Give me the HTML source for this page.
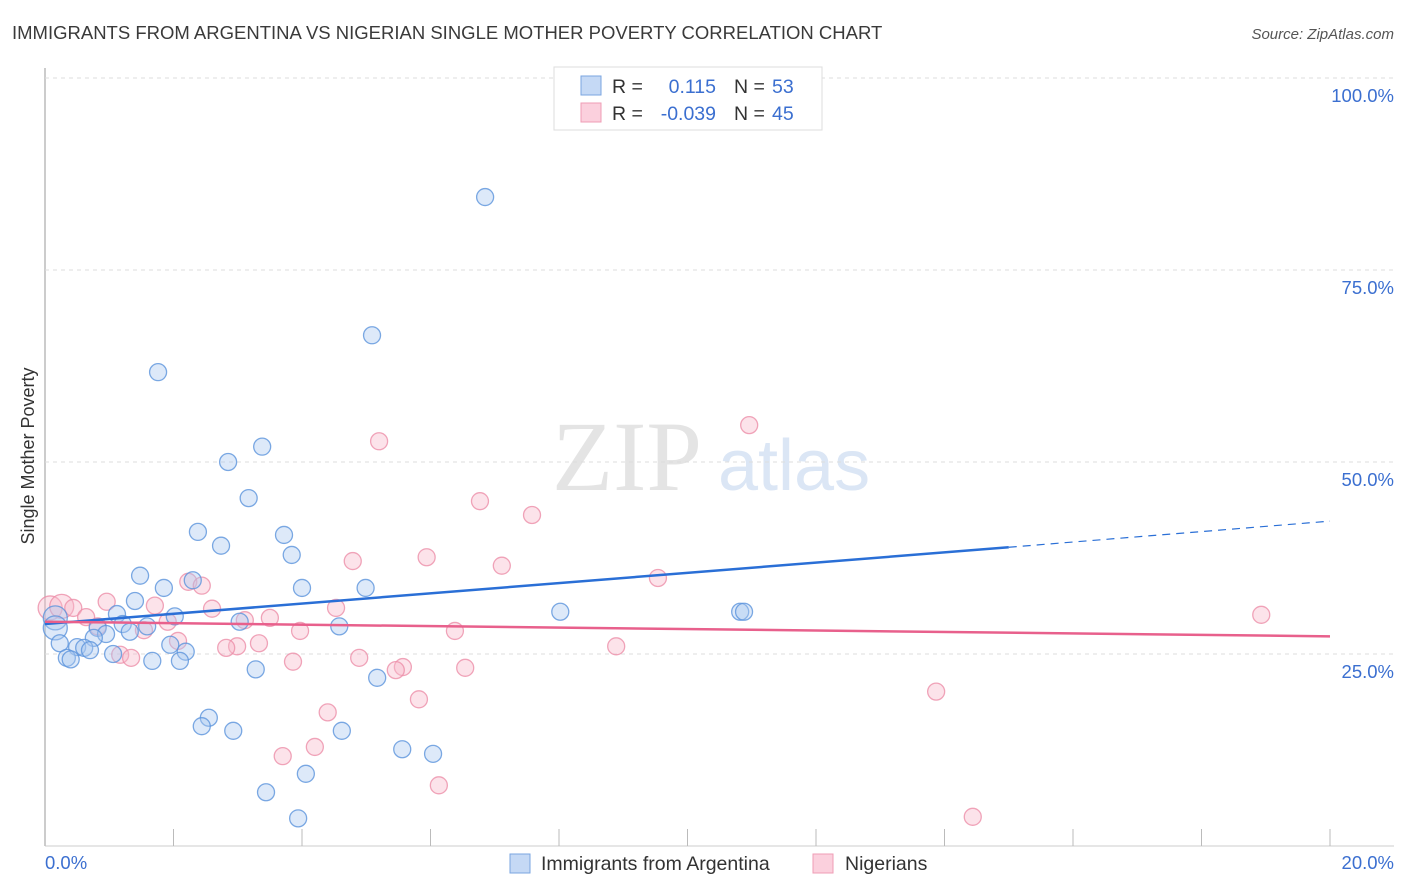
<!DOCTYPE html>
<html><head><meta charset="utf-8"><style>
body{margin:0;background:#fff;font-family:"Liberation Sans",sans-serif;}
</style></head><body>
<svg id="chart" width="1406" height="892" xmlns="http://www.w3.org/2000/svg" style="display:block">
<text x="12" y="39" font-size="18.5" fill="#3a3a3a">IMMIGRANTS FROM ARGENTINA VS NIGERIAN SINGLE MOTHER POVERTY CORRELATION CHART</text>
<text x="1394" y="39" font-size="15" fill="#555" text-anchor="end" font-style="italic">Source: ZipAtlas.com</text>
<text x="552" y="490" font-size="100" fill="#e4e4e4" font-family="Liberation Serif">ZIP</text>
<text x="718" y="490" font-size="72" fill="#dbe6f5">atlas</text>
<g id="grid"></g>
<g id="marks"></g>
<text transform="translate(34,456) rotate(-90)" font-size="18" fill="#333" text-anchor="middle">Single Mother Poverty</text>
<text x="45" y="869" font-size="18.5" fill="#3b6fd0">0.0%</text>
<text x="1394" y="869" font-size="18.5" fill="#3b6fd0" text-anchor="end">20.0%</text>
<g>
<rect x="554" y="67" width="268" height="63" fill="#fff" stroke="#ddd"/>
<rect x="581" y="76" width="20" height="19" fill="#c5d9f5" stroke="#7aa5e0"/>
<rect x="581" y="103" width="20" height="19" fill="#fbd0dd" stroke="#ef9db5"/>
<text x="612" y="93" font-size="19.5" fill="#333">R =</text>
<text x="716" y="93" font-size="19.5" fill="#3b6fd0" text-anchor="end">0.115</text>
<text x="734" y="93" font-size="19.5" fill="#333">N =</text>
<text x="772" y="93" font-size="19.5" fill="#3b6fd0">53</text>
<text x="612" y="120" font-size="19.5" fill="#333">R =</text>
<text x="716" y="120" font-size="19.5" fill="#3b6fd0" text-anchor="end">-0.039</text>
<text x="734" y="120" font-size="19.5" fill="#333">N =</text>
<text x="772" y="120" font-size="19.5" fill="#3b6fd0">45</text>
</g>
<g>
<rect x="510" y="854" width="20" height="19" fill="#c5d9f5" stroke="#7aa5e0"/>
<text x="541" y="870" font-size="19.5" fill="#333">Immigrants from Argentina</text>
<rect x="813" y="854" width="20" height="19" fill="#fbd0dd" stroke="#ef9db5"/>
<text x="845" y="870" font-size="19.5" fill="#333">Nigerians</text>
</g>
</svg>
<script>
const yTicks=[25,50,75,100];
const yTickLabels=["25.0%","50.0%","75.0%","100.0%"];
const xTicks=[0,2,4,6,8,10,12,14,16,18,20];
const blueX=[6.85,5.09,1.76,3.38,2.85,3.17,2.38,3.72,2.74,3.84,1.48,2.30,1.85,4.0,4.99,1.40,8.02,10.82,10.88,1.12,2.02,0.16,3.03,1.21,1.59,4.58,0.16,0.82,1.32,0.95,0.76,0.23,1.95,0.50,0.61,0.70,2.19,1.06,0.34,0.40,1.67,2.10,3.28,5.17,2.55,2.44,2.93,4.62,5.56,6.04,4.06,3.44,3.94];
const blueY=[84.5,66.5,61.7,52.0,50.0,45.3,40.9,40.5,39.1,37.9,35.2,34.6,33.6,33.6,33.6,31.9,30.5,30.5,30.5,30.2,29.9,29.7,29.2,28.9,28.6,28.6,28.4,28.4,27.9,27.6,27.1,26.4,26.2,25.9,25.8,25.5,25.3,25.0,24.5,24.3,24.1,24.1,23.0,21.9,16.7,15.6,15.0,15.0,12.6,12.0,9.4,7.0,3.6];
const pinkX=[10.96,5.2,6.77,7.58,5.94,4.79,7.11,9.54,2.23,2.44,0.96,1.71,2.60,4.53,0.08,0.26,0.44,0.64,18.93,3.11,3.50,1.91,0.82,1.54,3.97,6.38,2.07,3.33,2.99,2.82,8.89,1.17,1.34,4.89,3.86,5.57,5.46,6.54,5.82,13.87,4.40,4.20,3.70,6.13,14.44];
const pinkY=[54.8,52.7,44.9,43.1,37.6,37.1,36.5,34.9,34.4,33.9,31.8,31.3,30.9,31.0,31.0,31.2,31.0,29.8,30.1,29.4,29.7,29.2,28.6,28.1,28.0,28.0,26.7,26.4,26.0,25.8,26.0,24.9,24.5,24.5,24.0,23.3,22.9,23.2,19.1,20.1,17.4,12.9,11.7,7.9,3.8];
const blueTrend=[[0,28.9],[15.0,38.9],[20,42.3]];
const pinkTrend=[[0,29.2],[20,27.3]];
const X=v=>45+v/20*1285, Y=v=>846-v*7.68;
const NS="http://www.w3.org/2000/svg";
function mk(t,a,p){const e=document.createElementNS(NS,t);for(const k in a)e.setAttribute(k,a[k]);p.appendChild(e);return e;}
const g=document.getElementById('grid'), m=document.getElementById('marks');
let ax=mk('line',{x1:45,y1:68,x2:45,y2:846,stroke:'#bbb','stroke-width':1.5},g);


let bx=mk('line',{x1:45,y1:846,x2:1394,y2:846,stroke:'#ccc','stroke-width':1},g);


yTicks.forEach((t,i)=>{
 const l=mk('line',{x1:45,y1:Y(t),x2:1394,y2:Y(t),stroke:'#ddd','stroke-dasharray':'4,4'},g);
 
 
 const tx=mk('text',{x:1394,y:Y(t)+24,'font-size':18.5,fill:'#3b6fd0','text-anchor':'end'},g);
 tx.textContent=yTickLabels[i];
 
 
});
xTicks.forEach(t=>{
 const l=mk('line',{x1:X(t),y1:829,x2:X(t),y2:846,stroke:'#bbb'},g);
 
 
});
function pts(xs,ys,fill,stroke,name){
 xs.forEach((x,i)=>{
  const big=(x<0.3&&ys[i]>28&&ys[i]<32);
  const c=mk('circle',{cx:X(x),cy:Y(ys[i]),r:big?12:8.5,fill:fill,'fill-opacity':0.4,stroke:stroke,'stroke-width':1.3,'stroke-opacity':0.8},m);
  
  
 });
}
pts(pinkX,pinkY,'#f7b8ca','#ec8ea9','nigerian-point');
pts(blueX,blueY,'#a9c8f0','#5b93dc','argentina-point');
let l1=mk('line',{x1:X(blueTrend[0][0]),y1:Y(blueTrend[0][1]),x2:X(blueTrend[1][0]),y2:Y(blueTrend[1][1]),stroke:'#2a6fd6','stroke-width':2.5},m);


let l2=mk('line',{x1:X(blueTrend[1][0]),y1:Y(blueTrend[1][1]),x2:X(blueTrend[2][0]),y2:Y(blueTrend[2][1]),stroke:'#2a6fd6','stroke-width':1.2,'stroke-dasharray':'8,6'},m);


let l3=mk('line',{x1:X(pinkTrend[0][0]),y1:Y(pinkTrend[0][1]),x2:X(pinkTrend[1][0]),y2:Y(pinkTrend[1][1]),stroke:'#e8608c','stroke-width':2.5},m);


</script>
</body></html>
